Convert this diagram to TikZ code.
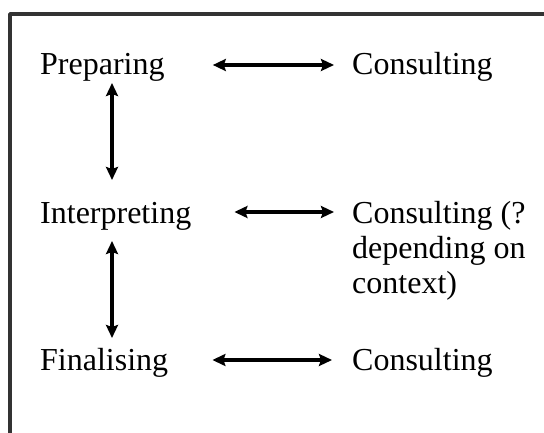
\documentclass[tikz,border=0pt]{standalone}
\usepackage{fontspec}
\setmainfont{Liberation Serif}
\usetikzlibrary{arrows.meta,calc}
\begin{document}
\begin{tikzpicture}[x=1pt, y=1pt, line join=round, >={Stealth[length=13pt,width=12pt,inset=2pt]},
	stage/.style={anchor=base west, inner sep=0pt, font=\fontsize{32}{35}\selectfont},
	link/.style={line width=4.5pt, <->}]
	\useasboundingbox (0,0) rectangle (544,432);
	\clip (0,0) rectangle (544,432);
	\draw[line width=3.5pt, draw=black!80] (10,-20) rectangle (580,418); % Khung
	\coordinate (vx) at (112,0);
	% Cot trai
	\node[stage] (prep) at (40,357) {Preparing};
	\node[stage] (interp) at (40,209) {Interpreting};
	\node[stage] (final) at (40,62) {Finalising};
	% Cot phai
	\node[stage] (cons1) at (352,357) {Consulting};
	\node[stage, align=left] (cons2) at (352,139) {Consulting (?\\depending on\\context)};
	\node[stage] (cons3) at (352,62) {Consulting};
	% Mui ten ngang
	\draw[link] ($(prep.base east)+(48,10)$) -- ($(prep.base east -| cons1.west)+(-18,10)$);
	\draw[link] ($(interp.base east)+(43,11)$) -- ($(interp.base east -| cons2.west)+(-18,11)$);
	\draw[link] ($(final.base east)+(44,10)$) -- ($(final.base east -| cons3.west)+(-20,10)$);
	% Mui ten doc
	\draw[link] ($(prep.base -| vx)+(0,-8)$) -- ($(interp.base -| vx)+(0,43)$);
	\draw[link] ($(interp.base -| vx)+(0,-18)$) -- ($(final.base -| vx)+(0,32)$);
\end{tikzpicture}
\end{document}
